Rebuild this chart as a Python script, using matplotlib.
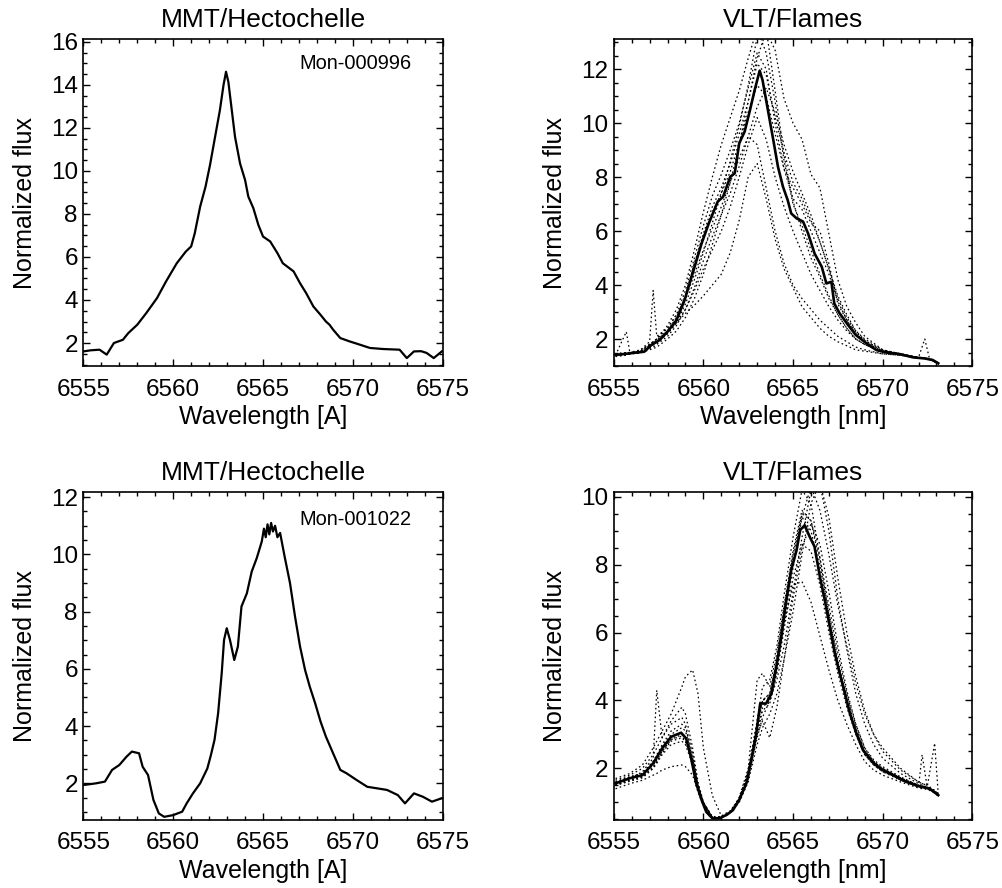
import matplotlib
matplotlib.use("Agg")
import matplotlib.pyplot as plt
from matplotlib.ticker import MultipleLocator

plt.rcParams["font.family"] = ["Liberation Sans", "DejaVu Sans"]

# ---- MMT/Hectochelle, Mon-000996 (top left) ----
mmt1_wl = [6555.0, 6555.4, 6555.9, 6556.3, 6556.7, 6557.2, 6557.5, 6558.0, 6558.5, 6559.1,
           6559.6, 6560.2, 6560.7, 6561.0, 6561.2, 6561.5, 6561.8, 6562.05, 6562.3,
           6562.6, 6562.8, 6562.94, 6563.07, 6563.26, 6563.44, 6563.72, 6564.0,
           6564.18, 6564.46, 6564.74, 6565.0, 6565.4, 6565.8, 6566.1, 6566.7,
           6567.06, 6567.4, 6567.8, 6568.2, 6568.5, 6568.7, 6568.9, 6569.3, 6569.8, 6570.4,
           6570.95, 6571.7, 6572.6, 6573.0, 6573.4, 6573.8, 6574.1, 6574.5, 6574.95]
mmt1_flux = [1.61, 1.66, 1.69, 1.46, 2.0, 2.15, 2.46, 2.85, 3.39, 4.09,
             4.86, 5.71, 6.25, 6.49, 7.1, 8.34, 9.27, 10.28, 11.44,
             12.83, 13.99, 14.61, 14.14, 12.83, 11.59, 10.35, 9.58,
             8.81, 8.27, 7.49, 6.95, 6.72, 6.18, 5.71, 5.33,
             4.78, 4.32, 3.70, 3.31, 3.0, 2.85, 2.62, 2.23, 2.08, 1.92,
             1.77, 1.72, 1.69, 1.30, 1.61, 1.62, 1.54, 1.30, 1.61]

# ---- MMT/Hectochelle, Mon-001022 (bottom left) ----
mmt2_wl = [6555.0, 6555.7, 6556.2, 6556.6, 6557.0, 6557.4, 6557.7, 6558.1, 6558.3,
           6558.6, 6558.9, 6559.2, 6559.5, 6560.0, 6560.5, 6560.75, 6561.1, 6561.5,
           6561.9, 6562.1, 6562.3, 6562.5, 6562.7, 6562.83, 6562.98, 6563.16,
           6563.4, 6563.6, 6563.8, 6564.1, 6564.37, 6564.65, 6564.93, 6565.05,
           6565.15, 6565.25, 6565.35, 6565.45, 6565.55, 6565.67, 6565.8, 6565.95,
           6566.2, 6566.5, 6566.78, 6567.06, 6567.34,
           6567.6, 6567.9, 6568.2, 6568.5, 6568.9, 6569.3, 6569.65, 6570.2, 6570.8,
           6571.3, 6571.9, 6572.5, 6572.9, 6573.4, 6573.9, 6574.4, 6574.95]
mmt2_flux = [1.94, 2.0, 2.06, 2.47, 2.64, 2.93, 3.11, 3.05, 2.58,
             2.29, 1.42, 0.95, 0.83, 0.89, 1.01, 1.30, 1.65, 2.0,
             2.52, 2.99, 3.52, 4.45, 5.85, 7.01, 7.42, 7.01,
             6.31, 6.78, 8.18, 8.64, 9.40, 9.87, 10.45, 10.9,
             10.6, 11.05, 10.7, 11.1, 10.8, 11.0, 10.6, 10.75,
             9.93, 9.0, 7.83, 6.78, 5.96,
             5.38, 4.80, 4.16, 3.63, 3.05, 2.47, 2.35, 2.12, 1.88,
             1.83, 1.77, 1.59, 1.30, 1.65, 1.53, 1.36, 1.48]

# ---- VLT/Flames, first star (top right): mean and single exposures ----
vlt1_wl = [6555.1, 6555.7, 6555.9, 6556.5, 6557.0, 6557.2, 6557.4, 6558.0, 6558.5,
           6559.0, 6559.5, 6560.0, 6560.5, 6561.0, 6561.5, 6562.0, 6562.5, 6563.0,
           6563.5, 6564.0, 6564.5, 6565.0, 6565.5, 6566.0, 6566.5, 6567.0, 6567.5,
           6568.0, 6568.5, 6569.0, 6570.0, 6571.0, 6572.0, 6572.35, 6572.6, 6573.1]
vlt1_mean_wl = [6555.1, 6555.9, 6556.7, 6557.1, 6557.55, 6558.0, 6558.5, 6558.95,
                6559.4, 6559.9, 6560.3, 6560.8, 6561.1, 6561.5, 6561.75, 6562.0,
                6562.3, 6562.6, 6562.86, 6563.14, 6563.3, 6563.6, 6563.9, 6564.16,
                6564.44, 6564.7, 6564.9, 6565.2, 6565.56, 6565.84, 6566.2, 6566.6,
                6566.86, 6567.14, 6567.3, 6567.6, 6568.07, 6568.5, 6569.1, 6569.65,
                6570.2, 6570.96, 6571.7, 6572.36, 6572.8, 6573.1]
vlt1_mean = [1.41, 1.47, 1.53, 1.78, 1.96, 2.27, 2.70, 3.44,
             4.43, 5.54, 6.28, 7.09, 7.27, 8.01, 8.14, 9.25,
             9.68, 10.48, 11.22, 11.94, 11.59, 10.48, 9.37, 8.38,
             7.64, 7.15, 6.65, 6.47, 6.35, 5.91, 5.17, 4.68,
             4.06, 4.12, 3.32, 2.95, 2.52, 2.15, 1.84, 1.59,
             1.51, 1.44, 1.32, 1.28, 1.22, 1.10]
vlt1_exp = [
    [1.35, 1.4, 1.45, 1.55, 1.8, 1.9, 2.0, 2.5, 3.1, 4.0, 5.3, 6.7, 8.0, 9.2, 10.2, 11.2, 12.4, 13.5,
     12.6, 10.8, 8.6, 7.0, 6.2, 5.3, 4.4, 3.6, 2.9, 2.4, 2.0, 1.8, 1.5, 1.4, 1.3, 1.28, 1.25, 1.12],
    [1.4, 1.42, 1.45, 1.5, 1.6, 1.65, 1.7, 2.0, 2.3, 2.8, 3.5, 4.4, 5.5, 6.6, 7.8, 9.2, 10.8, 12.4,
     13.4, 12.7, 10.9, 10.0, 9.4, 8.1, 7.6, 5.9, 4.2, 3.2, 2.6, 2.1, 1.6, 1.45, 1.32, 1.3, 1.27, 1.12],
    [1.45, 1.5, 1.5, 1.6, 1.8, 1.9, 2.0, 2.3, 2.6, 2.95, 3.25, 3.6, 4.0, 4.4, 5.2, 6.4, 8.0, 8.5,
     7.2, 5.7, 4.6, 3.9, 3.2, 2.8, 2.4, 2.1, 1.9, 1.75, 1.6, 1.55, 1.45, 1.4, 1.3, 1.28, 1.25, 1.1],
    [1.4, 1.45, 1.45, 1.5, 1.7, 1.8, 1.9, 2.2, 2.6, 3.1, 3.8, 4.6, 5.3, 6.0, 6.9, 8.0, 9.2, 10.2,
     9.4, 8.0, 6.9, 6.0, 5.2, 4.4, 3.8, 3.2, 2.7, 2.3, 2.0, 1.8, 1.5, 1.42, 1.3, 1.28, 1.25, 1.1],
    [1.45, 1.5, 1.5, 1.6, 1.9, 3.8, 2.1, 2.4, 2.9, 3.8, 5.0, 6.2, 7.3, 8.1, 9.0, 10.0, 11.3, 12.6,
     12.0, 10.0, 8.3, 7.2, 6.8, 6.0, 5.2, 4.4, 3.4, 2.7, 2.2, 1.9, 1.55, 1.45, 1.32, 1.3, 1.26, 1.12],
    [1.4, 2.27, 1.5, 1.55, 1.75, 1.85, 1.95, 2.3, 2.8, 3.6, 4.8, 5.9, 6.9, 7.6, 8.5, 9.6, 10.8, 12.2,
     11.8, 10.2, 8.9, 7.8, 7.2, 6.4, 5.6, 4.6, 3.5, 2.8, 2.3, 1.95, 1.55, 1.45, 1.3, 1.28, 1.25, 1.1],
    [1.4, 1.42, 1.45, 1.5, 1.65, 1.7, 1.8, 2.1, 2.5, 3.1, 3.9, 4.9, 5.8, 6.6, 7.4, 8.4, 9.5, 10.6,
     11.3, 10.4, 9.2, 8.2, 7.4, 6.6, 5.6, 4.6, 3.6, 2.9, 2.3, 2.0, 1.6, 1.45, 1.32, 2.0, 1.3, 1.12],
    [1.4, 1.45, 1.5, 1.55, 1.8, 1.9, 2.0, 2.4, 2.9, 3.5, 4.4, 5.3, 6.1, 6.9, 7.8, 8.7, 9.5, 9.2,
     7.6, 6.0, 4.8, 4.0, 3.5, 3.1, 2.7, 2.4, 2.1, 1.9, 1.7, 1.6, 1.45, 1.4, 1.3, 1.28, 1.25, 1.1],
    [1.4, 1.45, 1.45, 1.5, 1.7, 1.78, 1.85, 2.2, 2.6, 3.3, 4.2, 5.2, 6.3, 7.4, 8.6, 9.9, 11.4, 13.2,
     13.5, 11.2, 8.8, 7.1, 6.0, 5.0, 4.3, 3.5, 2.9, 2.4, 2.0, 1.8, 1.5, 1.42, 1.3, 1.28, 1.25, 1.1],
    [1.42, 1.45, 1.48, 1.52, 1.7, 1.8, 1.88, 2.3, 2.75, 3.6, 4.8, 5.8, 6.7, 7.4, 8.2, 9.3, 10.4, 11.4,
     11.0, 9.6, 8.3, 7.6, 7.0, 6.3, 6.0, 4.8, 3.3, 2.7, 2.25, 1.95, 1.55, 1.45, 1.3, 1.3, 1.26, 1.1],
]

# ---- VLT/Flames, second star (bottom right) ----
vlt2_wl = [6555.1, 6555.9, 6556.6, 6557.2, 6557.4, 6557.7, 6558.2, 6558.8, 6559.0, 6559.4,
           6559.7, 6560.0, 6560.5, 6561.0, 6561.5, 6562.0, 6562.5, 6563.0, 6563.3, 6563.7,
           6564.1, 6564.5, 6565.0, 6565.5, 6566.0, 6566.5, 6567.0, 6567.5, 6568.0, 6568.5,
           6569.0, 6569.5, 6570.0, 6571.0, 6572.0, 6572.2, 6572.5, 6572.9, 6573.1]
vlt2_mean_wl = [6555.1, 6555.9, 6556.6, 6557.2, 6557.7, 6558.2, 6558.76, 6559.04, 6559.3,
                6559.6, 6559.9, 6560.16, 6560.5, 6560.9, 6561.3, 6561.65, 6562.0, 6562.4,
                6562.67, 6562.95, 6563.17, 6563.5, 6563.8, 6564.07, 6564.35, 6564.6, 6564.9,
                6565.2, 6565.4, 6565.65, 6565.93, 6566.2, 6566.5, 6566.77, 6567.05, 6567.33,
                6567.6, 6567.9, 6568.17, 6568.54, 6568.9, 6569.5, 6570.0, 6570.6, 6571.3,
                6572.1, 6572.6, 6573.1]
vlt2_mean = [1.56, 1.71, 1.80, 2.15, 2.59, 2.93, 3.05, 2.88, 2.34,
             1.56, 1.07, 0.72, 0.53, 0.53, 0.63, 0.77, 1.07, 1.56,
             2.25, 3.03, 3.91, 3.91, 4.21, 4.99, 5.88, 6.86, 7.84,
             8.43, 9.02, 9.16, 8.82, 8.53, 7.64, 6.96, 6.17, 5.39,
             4.80, 4.21, 3.62, 3.03, 2.54, 2.15, 1.95, 1.80, 1.61,
             1.46, 1.41, 1.21]
vlt2_exp = [
    [1.5, 1.65, 1.75, 2.0, 2.15, 2.4, 2.7, 2.8, 2.7, 2.1, 1.4, 0.95, 0.55, 0.55, 0.7, 1.05, 1.7, 2.9, 3.5, 4.0,
     4.6, 5.6, 7.2, 8.8, 10.2, 10.4, 9.0, 7.0, 5.5, 4.2, 3.3, 2.7, 2.3, 1.85, 1.55, 1.5, 1.45, 1.35, 1.25],
    [1.6, 1.75, 1.85, 2.2, 2.35, 2.65, 3.0, 3.2, 3.1, 2.3, 1.5, 1.0, 0.55, 0.55, 0.72, 1.1, 1.9, 3.4, 4.4, 4.6,
     5.6, 7.1, 8.8, 10.2, 9.8, 8.2, 6.5, 5.1, 4.0, 3.1, 2.5, 2.2, 2.0, 1.72, 1.5, 1.48, 1.43, 1.32, 1.22],
    [1.7, 1.85, 2.1, 2.6, 2.8, 3.1, 3.6, 4.4, 4.7, 4.9, 4.2, 2.6, 1.2, 0.6, 0.75, 1.1, 1.8, 3.0, 3.7, 3.9,
     4.8, 6.1, 7.6, 8.6, 8.4, 7.4, 6.0, 4.8, 3.8, 3.0, 2.4, 2.1, 1.9, 1.65, 1.45, 1.43, 1.4, 1.28, 1.2],
    [1.5, 1.7, 1.9, 2.3, 4.3, 2.9, 3.3, 3.5, 3.3, 2.4, 1.5, 1.0, 0.55, 0.55, 0.7, 1.05, 1.75, 3.2, 4.0, 4.2,
     5.2, 6.6, 8.2, 9.4, 9.0, 7.8, 6.4, 5.0, 3.9, 3.0, 2.4, 2.1, 1.9, 1.7, 1.5, 1.45, 1.4, 1.3, 1.2],
    [1.4, 1.55, 1.65, 1.8, 1.85, 1.95, 2.05, 2.1, 2.05, 1.8, 1.3, 0.9, 0.55, 0.55, 0.7, 1.05, 1.7, 3.0, 3.4, 2.9,
     3.8, 5.2, 7.0, 8.5, 9.2, 8.6, 7.2, 5.6, 4.3, 3.3, 2.6, 2.2, 1.95, 1.65, 1.45, 2.4, 1.4, 1.3, 1.2],
    [1.55, 1.7, 1.8, 2.1, 2.25, 2.5, 2.85, 2.95, 2.8, 2.2, 1.4, 0.95, 0.55, 0.58, 0.72, 1.1, 1.9, 3.4, 4.0, 4.1,
     5.0, 6.3, 7.4, 7.5, 6.9, 5.9, 4.9, 4.0, 3.3, 2.7, 2.2, 1.95, 1.8, 1.6, 1.42, 1.4, 1.38, 1.28, 1.18],
    [1.5, 1.62, 1.72, 2.0, 2.2, 2.45, 2.8, 2.9, 2.8, 2.2, 1.4, 0.95, 0.55, 0.55, 0.7, 1.0, 1.6, 2.7, 3.2, 3.6,
     4.2, 5.2, 6.6, 8.3, 9.8, 10.4, 9.4, 7.6, 6.0, 4.7, 3.7, 3.0, 2.5, 1.95, 1.6, 1.55, 1.5, 2.74, 1.25],
    [1.6, 1.75, 1.85, 2.2, 2.4, 2.7, 3.1, 3.3, 3.2, 2.4, 1.5, 1.0, 0.55, 0.55, 0.72, 1.15, 2.0, 4.6, 4.8, 4.4,
     5.4, 6.8, 8.4, 9.6, 9.3, 8.0, 6.6, 5.2, 4.1, 3.2, 2.5, 2.2, 2.0, 1.72, 1.5, 1.48, 1.43, 1.32, 1.22],
    [1.65, 1.8, 2.0, 2.4, 2.6, 2.9, 3.4, 3.8, 3.6, 2.6, 1.6, 1.0, 0.58, 0.58, 0.72, 1.1, 1.85, 3.3, 4.0, 4.2,
     5.2, 6.7, 8.3, 9.5, 9.3, 8.2, 6.8, 5.4, 4.2, 3.3, 2.6, 2.25, 2.05, 1.75, 1.5, 1.48, 1.44, 1.32, 1.22],
    [1.5, 1.65, 1.75, 2.05, 2.2, 2.5, 2.85, 3.0, 2.9, 2.2, 1.45, 0.95, 0.55, 0.55, 0.7, 1.05, 1.75, 3.1, 3.8, 4.0,
     4.9, 6.3, 7.9, 9.4, 10.3, 9.6, 8.3, 6.8, 5.6, 4.5, 3.6, 3.0, 2.6, 2.0, 1.6, 1.55, 1.5, 1.35, 1.25],
]

TICK_FS = 17.5
LABEL_FS = 18
TITLE_FS = 19
DOT = (0, (1.3, 2.2))


def style_axes(ax, ylim, title, xlabel):
    ax.set_xlim(6555, 6575)
    ax.set_ylim(*ylim)
    ax.xaxis.set_major_locator(MultipleLocator(5))
    ax.xaxis.set_minor_locator(MultipleLocator(1))
    ax.yaxis.set_major_locator(MultipleLocator(2))
    ax.yaxis.set_minor_locator(MultipleLocator(0.5))
    ax.tick_params(which="both", direction="in", top=True, right=True,
                   width=1.0, labelsize=TICK_FS)
    ax.tick_params(which="major", length=5.3)
    ax.tick_params(which="minor", length=2.9)
    ax.tick_params(axis="x", pad=9)
    ax.tick_params(axis="y", pad=4)
    for s in ax.spines.values():
        s.set_linewidth(1.2)
    ax.set_title(title, fontsize=TITLE_FS, pad=9)
    ax.set_xlabel(xlabel, fontsize=LABEL_FS, labelpad=3)
    ax.set_ylabel("Normalized flux", fontsize=LABEL_FS)
    ax.yaxis.set_label_coords(-0.13, 0.5)


fig = plt.figure(figsize=(10.03, 8.88), dpi=100)
ax_tl = fig.add_axes([0.0831, 0.5878, 0.3583, 0.3682])
ax_tr = fig.add_axes([0.6119, 0.5878, 0.3575, 0.3682])
ax_bl = fig.add_axes([0.0831, 0.0766, 0.3583, 0.3690])
ax_br = fig.add_axes([0.6119, 0.0766, 0.3575, 0.3690])

ax_tl.plot(mmt1_wl, mmt1_flux, color="black", lw=1.6)
ax_tl.text(0.601, 0.926, "Mon-000996", transform=ax_tl.transAxes,
           fontsize=14.4, ha="left", va="center")
style_axes(ax_tl, (0.93, 16.13), "MMT/Hectochelle", "Wavelength [A]")

for f in vlt1_exp:
    ax_tr.plot(vlt1_wl, f, color="black", lw=0.9, ls=DOT)
ax_tr.plot(vlt1_mean_wl, vlt1_mean, color="black", lw=1.9)
style_axes(ax_tr, (1.0, 13.11), "VLT/Flames", "Wavelength [nm]")

ax_bl.plot(mmt2_wl, mmt2_flux, color="black", lw=1.6)
ax_bl.text(0.601, 0.918, "Mon-001022", transform=ax_bl.transAxes,
           fontsize=14.4, ha="left", va="center")
style_axes(ax_bl, (0.72, 12.17), "MMT/Hectochelle", "Wavelength [A]")

for f in vlt2_exp:
    ax_br.plot(vlt2_wl, f, color="black", lw=0.9, ls=DOT)
ax_br.plot(vlt2_mean_wl, vlt2_mean, color="black", lw=1.9)
style_axes(ax_br, (0.48, 10.13), "VLT/Flames", "Wavelength [nm]")

fig.savefig("out.png", dpi=100)
